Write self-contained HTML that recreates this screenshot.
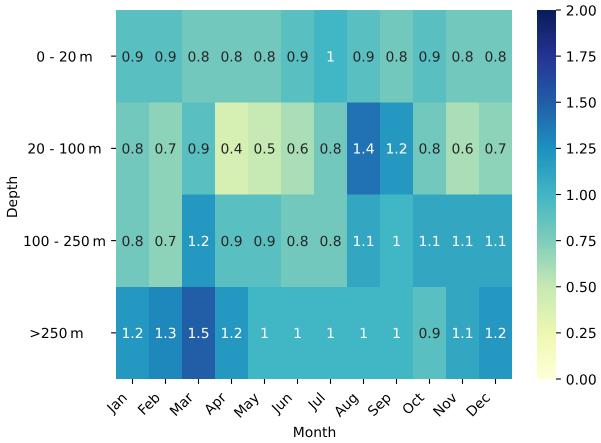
<!DOCTYPE html>
<html>
<head>
<meta charset="utf-8">
<style>
html,body{margin:0;padding:0;background:#fff;width:601px;height:443px;overflow:hidden}
svg{display:block}
text{font-family:"DejaVu Sans",sans-serif;font-size:13.89px;text-rendering:geometricPrecision}
</style>
</head>
<body>
<svg id="chart" width="601" height="443" viewBox="0 0 601 443" xmlns="http://www.w3.org/2000/svg">
<text x="314.5" y="437" text-anchor="middle" fill="#000">Month</text>
<text x="0" y="0" transform="translate(17 197) rotate(-90)" text-anchor="middle" fill="#000">Depth</text>
</svg>
<script>
const months = ['Jan','Feb','Mar','Apr','May','Jun','Jul','Aug','Sep','Oct','Nov','Dec'];
const depths = ['0 - 20\u2009m','20 - 100\u2009m','100 - 250\u2009m','>250\u2009m'];
const row0m20 = [0.9,0.9,0.8,0.8,0.8,0.9,1,0.9,0.8,0.9,0.8,0.8];
const row20m100 = [0.8,0.7,0.9,0.4,0.5,0.6,0.8,1.4,1.2,0.8,0.6,0.7];
const row100m250 = [0.8,0.7,1.2,0.9,0.9,0.8,0.8,1.1,1,1.1,1.1,1.1];
const row250plus = [1.2,1.3,1.5,1.2,1,1,1,1,1,0.9,1.1,1.2];
const colorbarTicks = [0,0.25,0.5,0.75,1,1.25,1.5,1.75,2];
const colormapStops = ['#ffffd9','#edf8b1','#c7e9b4','#7fcdbb','#41b6c4','#1d91c0','#225ea8','#253494','#081d58'];
const valueMin = 0;
const valueMax = 2;

const rows = [row0m20,row20m100,row100m250,row250plus];
const NS = 'http://www.w3.org/2000/svg';
const svg = document.getElementById('chart');
const plot = {left:116,right:512,top:10,bottom:379};
const bar = {left:537,right:556};

function xScale(i){ return plot.left + i*(plot.right-plot.left)/months.length; }
function yScale(i){ return plot.top + i*(plot.bottom-plot.top)/depths.length; }
function cbScale(v){ return plot.bottom - (v-valueMin)/(valueMax-valueMin)*(plot.bottom-plot.top); }
function hexRgb(h){ return [1,3,5].map(function(k){ return parseInt(h.substr(k,2),16); }); }
function colorRgb(v){
  const t = Math.max(0,Math.min(1,(v-valueMin)/(valueMax-valueMin)))*(colormapStops.length-1);
  const i = Math.min(colormapStops.length-2,Math.floor(t));
  const a = hexRgb(colormapStops[i]), b = hexRgb(colormapStops[i+1]);
  return a.map(function(c,k){ return Math.round(c+(b[k]-c)*(t-i)); });
}
function css(c){ return 'rgb('+c.join(',')+')'; }
function luminance(c){
  const l = c.map(function(x){ x/=255; return x<=0.03928 ? x/12.92 : Math.pow((x+0.055)/1.055,2.4); });
  return 0.2126*l[0]+0.7152*l[1]+0.0722*l[2];
}
function add(tag,attrs,txt){
  const el = document.createElementNS(NS,tag);
  for(const k in attrs){ el.setAttribute(k,attrs[k]); }
  if(txt!==undefined){ el.textContent = txt; }
  svg.appendChild(el);
  return el;
}

rows.forEach(function(row,r){
  row.forEach(function(v,c){
    const rgb = colorRgb(v);
    const cell = add('rect',{x:xScale(c),y:yScale(r),width:xScale(c+1)-xScale(c),height:yScale(r+1)-yScale(r),fill:css(rgb),'shape-rendering':'crispEdges'});
    
    
    const label = add('text',{x:(xScale(c)+xScale(c+1))/2,y:(yScale(r)+yScale(r+1))/2+5.3,'text-anchor':'middle',fill:luminance(rgb)<0.408?'#ffffff':'#262626'},String(v));
    
    
  });
});

months.forEach(function(m,i){
  const x = (xScale(i)+xScale(i+1))/2;
  const tick = add('line',{x1:x,x2:x,y1:plot.bottom,y2:plot.bottom+4.9,stroke:'#000','stroke-width':1.1});
  
  
  const label = add('text',{transform:'translate('+(x-4.5)+' '+(plot.bottom+19.5)+') rotate(-45)','text-anchor':'end',fill:'#000'},m);
  
  
});

depths.forEach(function(d,i){
  const y = (yScale(i)+yScale(i+1))/2;
  const tick = add('line',{x1:plot.left-4.9,x2:plot.left,y1:y,y2:y,stroke:'#000','stroke-width':1.1});
  
  
  const label = add('text',{x:i===3?56.5:64.5,y:y+5.3,'text-anchor':'middle',fill:'#000'},d);
  
  
});

for(let i=0;i<256;i++){
  const v0 = valueMin+(valueMax-valueMin)*i/256;
  const v1 = valueMin+(valueMax-valueMin)*(i+1)/256;
  const seg = add('rect',{x:bar.left,width:bar.right-bar.left,y:cbScale(v1),height:cbScale(v0)-cbScale(v1)+0.5,fill:css(colorRgb((v0+v1)/2))});
  
  
}
colorbarTicks.forEach(function(v){
  const y = cbScale(v);
  const tick = add('line',{x1:bar.right,x2:bar.right+4.9,y1:y,y2:y,stroke:'#000','stroke-width':1.1});
  
  
  const label = add('text',{x:bar.right+9.8,y:y+5.3,fill:'#000'},v.toFixed(2));
  
  
});
</script>
</body>
</html>
